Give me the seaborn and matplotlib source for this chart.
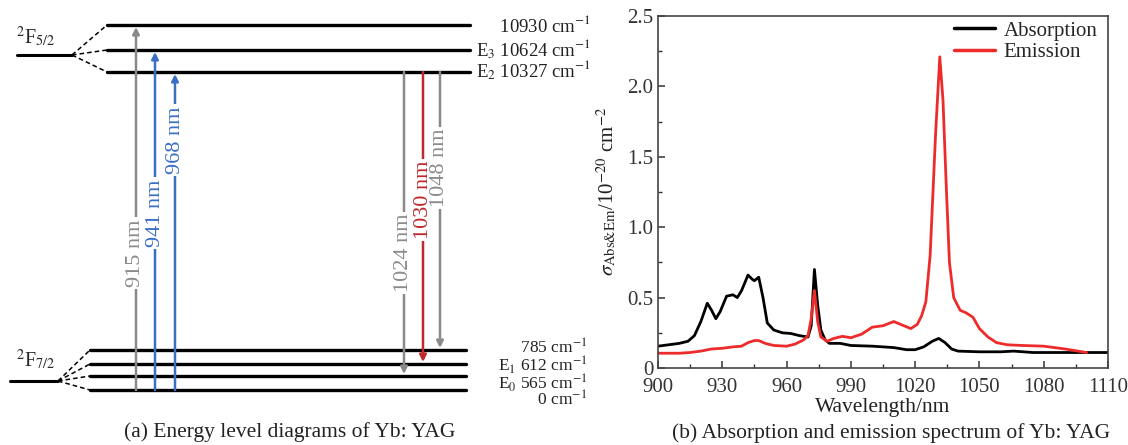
import numpy as np
import pandas as pd
import seaborn as sns
import matplotlib.pyplot as plt

# =========================================================
# DATA
# =========================================================

# energy levels of Yb:YAG (cm^-1)
upper_levels = [10930, 10624, 10327]
lower_levels = [785, 612, 565, 0]
upper_tags = ["", "E$_3$", "E$_2$"]
lower_tags = ["", "E$_1$", "E$_0$", ""]

# pump / laser transitions (nm)
pump_nm = [915, 941, 968]
pump_to = [0, 1, 2]            # index into upper_levels
laser_nm = [1024, 1030, 1048]
laser_to = [2, 1, 0]           # index into lower_levels (from E2)

# cross-section spectra (10^-20 cm^2)
abs_nm = [900, 905, 910, 914, 917, 920, 923, 925, 927, 929, 932, 935, 937,
          939, 942, 944, 945, 947, 949, 951, 954, 958, 962, 966, 970, 971.5,
          973, 974.5, 976, 978, 980, 985, 990, 1000, 1010, 1016, 1020, 1024,
          1028, 1031, 1034, 1037, 1040, 1050, 1060, 1066, 1075, 1090, 1110]
abs_val = [0.155, 0.165, 0.175, 0.19, 0.23, 0.33, 0.46, 0.41, 0.35, 0.40,
           0.51, 0.52, 0.50, 0.55, 0.66, 0.63, 0.62, 0.645, 0.50, 0.32, 0.27,
           0.25, 0.245, 0.23, 0.22, 0.30, 0.70, 0.45, 0.27, 0.20, 0.175,
           0.175, 0.16, 0.155, 0.145, 0.13, 0.13, 0.15, 0.19, 0.21, 0.18,
           0.135, 0.12, 0.115, 0.115, 0.12, 0.11, 0.11, 0.11]

em_nm = [900, 910, 915, 920, 925, 930, 935, 939, 942, 945, 947, 950, 954,
         960, 964, 968, 970, 971.5, 973, 974.5, 976, 979, 982, 986, 990, 995,
         1000, 1005, 1010, 1014, 1018, 1021, 1023, 1025, 1027, 1029.5, 1031.5,
         1033, 1034.5, 1036, 1038, 1041, 1044, 1047, 1050, 1054, 1058, 1063,
         1070, 1080, 1090, 1100]
em_val = [0.105, 0.105, 0.11, 0.12, 0.135, 0.14, 0.15, 0.155, 0.18, 0.195,
          0.195, 0.175, 0.16, 0.155, 0.17, 0.20, 0.23, 0.35, 0.55, 0.33,
          0.22, 0.19, 0.21, 0.225, 0.215, 0.24, 0.29, 0.30, 0.33, 0.305,
          0.28, 0.31, 0.37, 0.47, 0.80, 1.65, 2.21, 1.90, 1.30, 0.75, 0.50,
          0.41, 0.39, 0.36, 0.28, 0.22, 0.18, 0.165, 0.16, 0.155, 0.135, 0.11]

# =========================================================
# SETTINGS
# =========================================================

sns.set_theme(style="ticks")
plt.rcParams["font.family"] = ["Liberation Serif", "DejaVu Serif"]
plt.rcParams["mathtext.fontset"] = "stix"

fig = plt.figure(figsize=(11.28, 4.45), dpi=100)

# =========================================================
# (a) ENERGY LEVEL DIAGRAM  (axes in pixel-like units)
# =========================================================

ax1 = fig.add_axes([0, 0, 598 / 1128, 1])
ax1.set_xlim(0, 598)
ax1.set_ylim(445, 0)
ax1.axis("off")

upper_y = [25, 50, 72]
lower_y = [350, 364, 376, 390]
upper_txt_y = [25, 49, 70]
lower_txt_y = [348, 365.5, 383, 400.5]

# parent manifolds + dashed splitting
ax1.plot([17, 72], [55, 55], color="black", lw=2.2)
ax1.plot([10, 58], [381, 381], color="black", lw=2.2)
for y in upper_y:
    ax1.plot([72, 107], [55, y], color="black", lw=1.1, ls=(0, (3, 2)))
    ax1.plot([107, 470], [y, y], color="black", lw=2.4)
for y in lower_y:
    ax1.plot([58, 90], [381, y], color="black", lw=1.1, ls=(0, (3, 2)))
    ax1.plot([90, 466], [y, y], color="black", lw=2.4)

ax1.text(16, 37, r"$^{2}$F$_{5/2}$", fontsize=14.5, ha="left", va="center")
ax1.text(16, 360, r"$^{2}$F$_{7/2}$", fontsize=14.5, ha="left", va="center")

for lev, tag, ty in zip(upper_levels, upper_tags, upper_txt_y):
    ax1.text(591, ty, f"{tag} {lev} cm$^{{-1}}$", fontsize=13.5,
             ha="right", va="center", color="#222222")
for lev, tag, ty in zip(lower_levels, lower_tags, lower_txt_y):
    ax1.text(587, ty, f"{tag} {lev} cm$^{{-1}}$", fontsize=12.5,
             ha="right", va="center", color="#222222")

grey = "#8a8a8a"
blue = "#3a6fc4"
red = "#c0282d"

pump_x = [136, 155, 175]
pump_col = [grey, blue, blue]
pump_lab_y = [253, 213, 140]
for nm, to, x, c, ly in zip(pump_nm, pump_to, pump_x, pump_col, pump_lab_y):
    ax1.annotate("", xy=(x, upper_y[to] + 2), xytext=(x, lower_y[-1]),
                 arrowprops=dict(arrowstyle="-|>", color=c, lw=1.8,
                                 mutation_scale=10, shrinkA=0, shrinkB=0))
    ax1.text(x, ly, f"{nm} nm", rotation=90, fontsize=16, color=c,
             ha="center", va="center",
             bbox=dict(facecolor="white", edgecolor="none", pad=1.5))

laser_x = [404, 423, 440]
laser_col = [grey, red, grey]
laser_lab_y = [253, 200, 168]
for nm, to, x, c, ly in zip(laser_nm, laser_to, laser_x, laser_col, laser_lab_y):
    ax1.annotate("", xy=(x, lower_y[to] - 2), xytext=(x, upper_y[2]),
                 arrowprops=dict(arrowstyle="-|>", color=c, lw=1.8,
                                 mutation_scale=10, shrinkA=0, shrinkB=0))
    ax1.text(x, ly, f"{nm} nm", rotation=90, fontsize=16, color=c,
             ha="center", va="center",
             bbox=dict(facecolor="white", edgecolor="none", pad=1.5))

fig.text(290 / 1128, 1 - 432 / 445, "(a) Energy level diagrams of Yb: YAG",
         fontsize=15.5, ha="center", va="center", color="#222222")

# =========================================================
# (b) ABSORPTION / EMISSION SPECTRUM
# =========================================================

spec = pd.concat([
    pd.DataFrame({"nm": abs_nm, "sigma": abs_val, "kind": "Absorption"}),
    pd.DataFrame({"nm": em_nm, "sigma": em_val, "kind": "Emission"}),
])

ax2 = fig.add_axes([658 / 1128, 1 - 368 / 445, 450 / 1128, 352 / 445])

sns.lineplot(
    data=spec,
    x="nm",
    y="sigma",
    hue="kind",
    palette={"Absorption": "black", "Emission": "#ee2b2b"},
    linewidth=2.0,
    sort=False,
    ax=ax2
)

ax2.set_xlim(900, 1110)
ax2.set_ylim(0, 2.5)
ax2.set_xticks(np.arange(900, 1111, 30))
ax2.set_xticks(np.arange(915, 1110, 30), minor=True)
ax2.set_yticks([0, 0.5, 1.0, 1.5, 2.0, 2.5])
ax2.set_yticklabels(["0", "0.5", "1.0", "1.5", "2.0", "2.5"])
ax2.set_yticks(np.arange(0.25, 2.5, 0.5), minor=True)
ax2.tick_params(which="both", direction="in", labelsize=15,
                colors="#333333", top=False, right=False)
ax2.tick_params(which="major", length=5, width=1.1)
ax2.tick_params(which="minor", length=3, width=1.0)
ax2.tick_params(axis="x", pad=7)
for s in ax2.spines.values():
    s.set_color("#444444")
    s.set_linewidth(1.2)

ax2.set_xlabel("Wavelength/nm", fontsize=15.5, labelpad=1, color="#222222")
ax2.set_ylabel(r"$\sigma_{\rm Abs&Em}$/10$^{-20}$ cm$^{-2}$",
               fontsize=15, labelpad=6, color="#222222")

leg = ax2.legend(loc="upper right", frameon=False, fontsize=15,
                 handlelength=2.0, bbox_to_anchor=(1.0, 1.015),
                 borderaxespad=0.1, labelspacing=0.1, handletextpad=0.4)
for line in leg.get_lines():
    line.set_linewidth(2.5)

fig.text(891 / 1128, 1 - 433 / 445,
         "(b) Absorption and emission spectrum of Yb: YAG",
         fontsize=15.5, ha="center", va="center", color="#222222")

fig.savefig("out.png", dpi=100)
